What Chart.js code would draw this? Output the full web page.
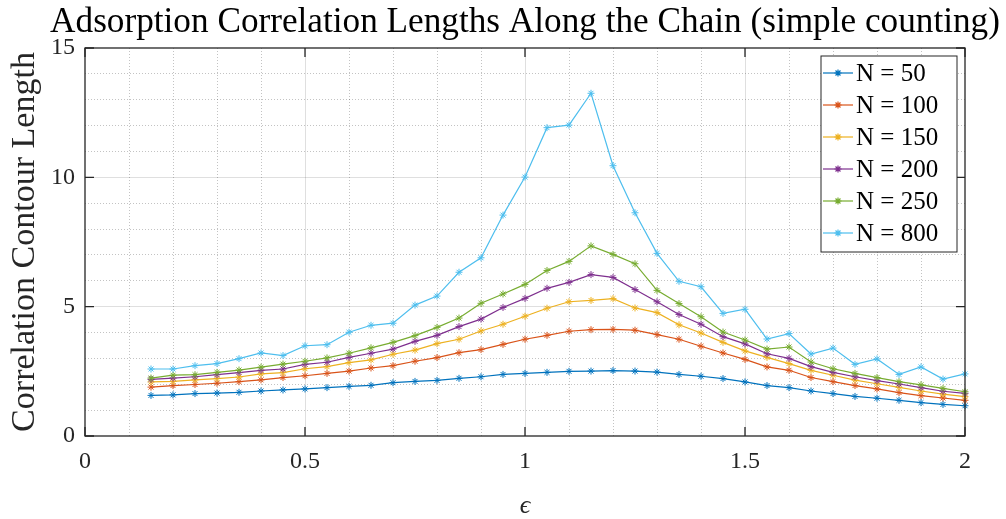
<!DOCTYPE html>
<html><head><meta charset="utf-8">
<script src="https://cdn.jsdelivr.net/npm/chart.js@4.4.1/dist/chart.umd.min.js"></script>
<style>html,body{margin:0;padding:0;background:#fff;}#wrap{width:1006px;height:519px;}</style>
</head><body><div id="wrap"><canvas id="c" width="1006" height="519"></canvas></div>
<script>
// ---- data ----
const eps = [0.15,0.20,0.25,0.30,0.35,0.40,0.45,0.50,0.55,0.60,0.65,0.70,0.75,0.80,0.85,0.90,0.95,1.00,1.05,1.10,1.15,1.20,1.25,1.30,1.35,1.40,1.45,1.50,1.55,1.60,1.65,1.70,1.75,1.80,1.85,1.90,1.95,2.00];
const n50  = [1.57,1.59,1.64,1.66,1.69,1.74,1.78,1.82,1.87,1.92,1.96,2.06,2.11,2.15,2.23,2.29,2.38,2.42,2.46,2.50,2.51,2.53,2.51,2.47,2.38,2.31,2.22,2.09,1.95,1.87,1.74,1.64,1.53,1.46,1.38,1.29,1.22,1.17];
const n100 = [1.89,1.95,1.99,2.04,2.10,2.17,2.26,2.33,2.42,2.51,2.63,2.72,2.89,3.03,3.22,3.34,3.54,3.74,3.89,4.05,4.11,4.12,4.09,3.92,3.74,3.47,3.21,2.96,2.67,2.54,2.26,2.10,1.95,1.82,1.68,1.56,1.47,1.38];
const n150 = [2.09,2.11,2.17,2.22,2.28,2.40,2.45,2.60,2.68,2.84,2.94,3.16,3.32,3.57,3.74,4.06,4.32,4.63,4.94,5.19,5.24,5.31,4.95,4.77,4.30,3.98,3.62,3.29,3.04,2.80,2.54,2.35,2.16,2.02,1.88,1.74,1.62,1.52];
const n200 = [2.19,2.24,2.29,2.37,2.45,2.54,2.59,2.77,2.85,3.04,3.20,3.36,3.66,3.89,4.23,4.52,4.97,5.32,5.71,5.94,6.24,6.13,5.66,5.19,4.70,4.32,3.84,3.56,3.18,3.00,2.68,2.46,2.29,2.14,2.01,1.87,1.73,1.65];
const n250 = [2.24,2.35,2.37,2.46,2.55,2.66,2.78,2.89,3.02,3.20,3.41,3.62,3.88,4.20,4.56,5.13,5.49,5.86,6.40,6.75,7.35,7.02,6.66,5.63,5.12,4.61,4.02,3.71,3.36,3.44,2.86,2.60,2.42,2.26,2.10,1.98,1.84,1.71];
const n800 = [2.59,2.59,2.72,2.80,2.99,3.21,3.11,3.49,3.53,4.01,4.28,4.36,5.06,5.41,6.33,6.89,8.54,10.01,11.92,12.02,13.25,10.45,8.63,7.06,5.98,5.77,4.74,4.90,3.75,3.96,3.17,3.40,2.77,2.98,2.38,2.67,2.20,2.40];
const seriesLabels = ['N = 50','N = 100','N = 150','N = 200','N = 250','N = 800'];
const seriesValues = [n50,n100,n150,n200,n250,n800];
const seriesColors = ['#0072BD','#D95319','#EDB120','#7E2F8E','#77AC30','#4DBEEE'];
const xTicks = [0,0.5,1,1.5,2];
const yTicks = [0,5,10,15];
const titleText = 'Adsorption Correlation Lengths Along the Chain (simple counting)';
const yTitleText = 'Correlation Contour Length';
const xTitleText = '\u03F5';

// ---- fonts ----
const FAM = '"Liberation Serif", "DejaVu Serif", serif';
const mctx = document.createElement('canvas').getContext('2d');
function fitSize(text, width){ mctx.font = '100px ' + FAM; return 100*width/mctx.measureText(text).width; }
const titleSize = fitSize(titleText, 950);
const yTitleSize = fitSize(yTitleText, 380);
const TXT = '#262626';

const isMult = (v, m) => Math.abs(v/m - Math.round(v/m)) < 1e-6;

const datasets = seriesValues.map((vals, i) => ({
  label: seriesLabels[i],
  data: eps.map((x, j) => ({x: x, y: vals[j]})),
  borderColor: seriesColors[i],
  backgroundColor: seriesColors[i],
  borderWidth: 1.2,
  pointStyle: 'star',
  pointRadius: 3.5,
  pointHoverRadius: 3.5,
  pointBorderWidth: 1,
  pointBorderColor: seriesColors[i],
  tension: 0,
  clip: false,
  order: seriesValues.length - 1 - i
}));

const framePlugin = {
  id: 'frame',
  afterDatasetsDraw(chart) {
    const ctx = chart.ctx, a = chart.chartArea;
    const xs = chart.scales.x, ys = chart.scales.y;
    ctx.save();
    ctx.strokeStyle = TXT; ctx.lineWidth = 1.3;
    ctx.strokeRect(a.left, a.top, a.right - a.left, a.bottom - a.top);
    const tl = 9;
    ctx.beginPath();
    xTicks.forEach(v => { const p = xs.getPixelForValue(v);
      ctx.moveTo(p, a.bottom); ctx.lineTo(p, a.bottom - tl);
      ctx.moveTo(p, a.top); ctx.lineTo(p, a.top + tl); });
    yTicks.forEach(v => { const p = ys.getPixelForValue(v);
      ctx.moveTo(a.left, p); ctx.lineTo(a.left + tl, p);
      ctx.moveTo(a.right, p); ctx.lineTo(a.right - tl, p); });
    ctx.stroke();
    // legend
    const bw = 136, bh = 196;
    const bx = a.right - 8 - bw, by = a.top + 8;
    ctx.fillStyle = '#fff';
    ctx.fillRect(bx, by, bw, bh);
    ctx.lineWidth = 1; ctx.strokeStyle = TXT;
    ctx.strokeRect(bx, by, bw, bh);
    ctx.font = '25px ' + FAM;
    ctx.textBaseline = 'middle'; ctx.textAlign = 'left';
    chart.data.datasets.forEach((d, i) => {
      const yy = by + 17 + i * 32;
      ctx.strokeStyle = d.borderColor; ctx.lineWidth = 1.2;
      ctx.beginPath(); ctx.moveTo(bx + 2, yy); ctx.lineTo(bx + 32, yy); ctx.stroke();
      ctx.fillStyle = d.borderColor;
      Chart.helpers.drawPoint(ctx, {pointStyle: 'star', radius: 3.5, borderWidth: 1}, bx + 17, yy);
      ctx.fillStyle = '#000';
      ctx.fillText(d.label, bx + 35, yy + 1);
    });
    ctx.restore();
  },
  afterDraw(chart) {
    const ctx = chart.ctx, a = chart.chartArea;
    ctx.save();
    ctx.font = titleSize.toFixed(2) + 'px ' + FAM;
    ctx.fillStyle = '#000';
    ctx.textAlign = 'center'; ctx.textBaseline = 'alphabetic';
    ctx.fillText(titleText, (a.left + a.right) / 2, 32);
    ctx.restore();
  }
};

new Chart(document.getElementById('c'), {
  type: 'line',
  data: {datasets: datasets},
  options: {
    responsive: false, animation: false, devicePixelRatio: 1,
    layout: {padding: {top: 48, right: 41, left: 0, bottom: 0}},
    plugins: {legend: {display: false}, title: {display: false}, tooltip: {enabled: false}},
    events: [],
    scales: {
      x: {
        type: 'linear', position: 'bottom', min: 0, max: 2,
        ticks: {stepSize: 0.5, color: TXT, padding: 11, maxRotation: 0, font: {family: FAM, size: 24},
                callback: v => String(Number(v))},
        grid: {color: c => (isMult(c.tick.value, 2) ? 'rgba(0,0,0,0)' : 'rgba(38,38,38,0.15)'), drawTicks: false, lineWidth: 1},
        border: {display: false},
        title: {display: true, text: xTitleText, color: TXT, font: {family: FAM, size: 26, style: 'italic'}, padding: {top: 0, bottom: -3}},
        afterFit: s => { s.height = 83; }
      },
      x2: {
        type: 'linear', position: 'bottom', min: 0, max: 2,
        ticks: {display: false, stepSize: 0.1},
        grid: {color: c => (isMult(c.tick.value, 0.5) ? 'rgba(0,0,0,0)' : 'rgba(38,38,38,0.28)'), drawTicks: false, lineWidth: 1},
        border: {display: false, dash: [1, 2]},
        afterFit: s => { s.height = 0; }
      },
      y: {
        type: 'linear', position: 'left', min: 0, max: 15,
        ticks: {stepSize: 5, color: TXT, padding: 10, font: {family: FAM, size: 24}},
        grid: {color: c => (isMult(c.tick.value, 15) ? 'rgba(0,0,0,0)' : 'rgba(38,38,38,0.15)'), drawTicks: false, lineWidth: 1},
        border: {display: false},
        title: {display: true, text: yTitleText, color: TXT, font: {family: FAM, size: yTitleSize}, padding: {top: 5, bottom: 0}},
        afterFit: s => { s.width = 85; }
      },
      y2: {
        type: 'linear', position: 'left', min: 0, max: 15,
        ticks: {display: false, stepSize: 1},
        grid: {color: c => (isMult(c.tick.value, 5) ? 'rgba(0,0,0,0)' : 'rgba(38,38,38,0.28)'), drawTicks: false, lineWidth: 1},
        border: {display: false, dash: [1, 2]},
        afterFit: s => { s.width = 0; }
      }
    }
  },
  plugins: [framePlugin]
});
</script>
</body></html>
